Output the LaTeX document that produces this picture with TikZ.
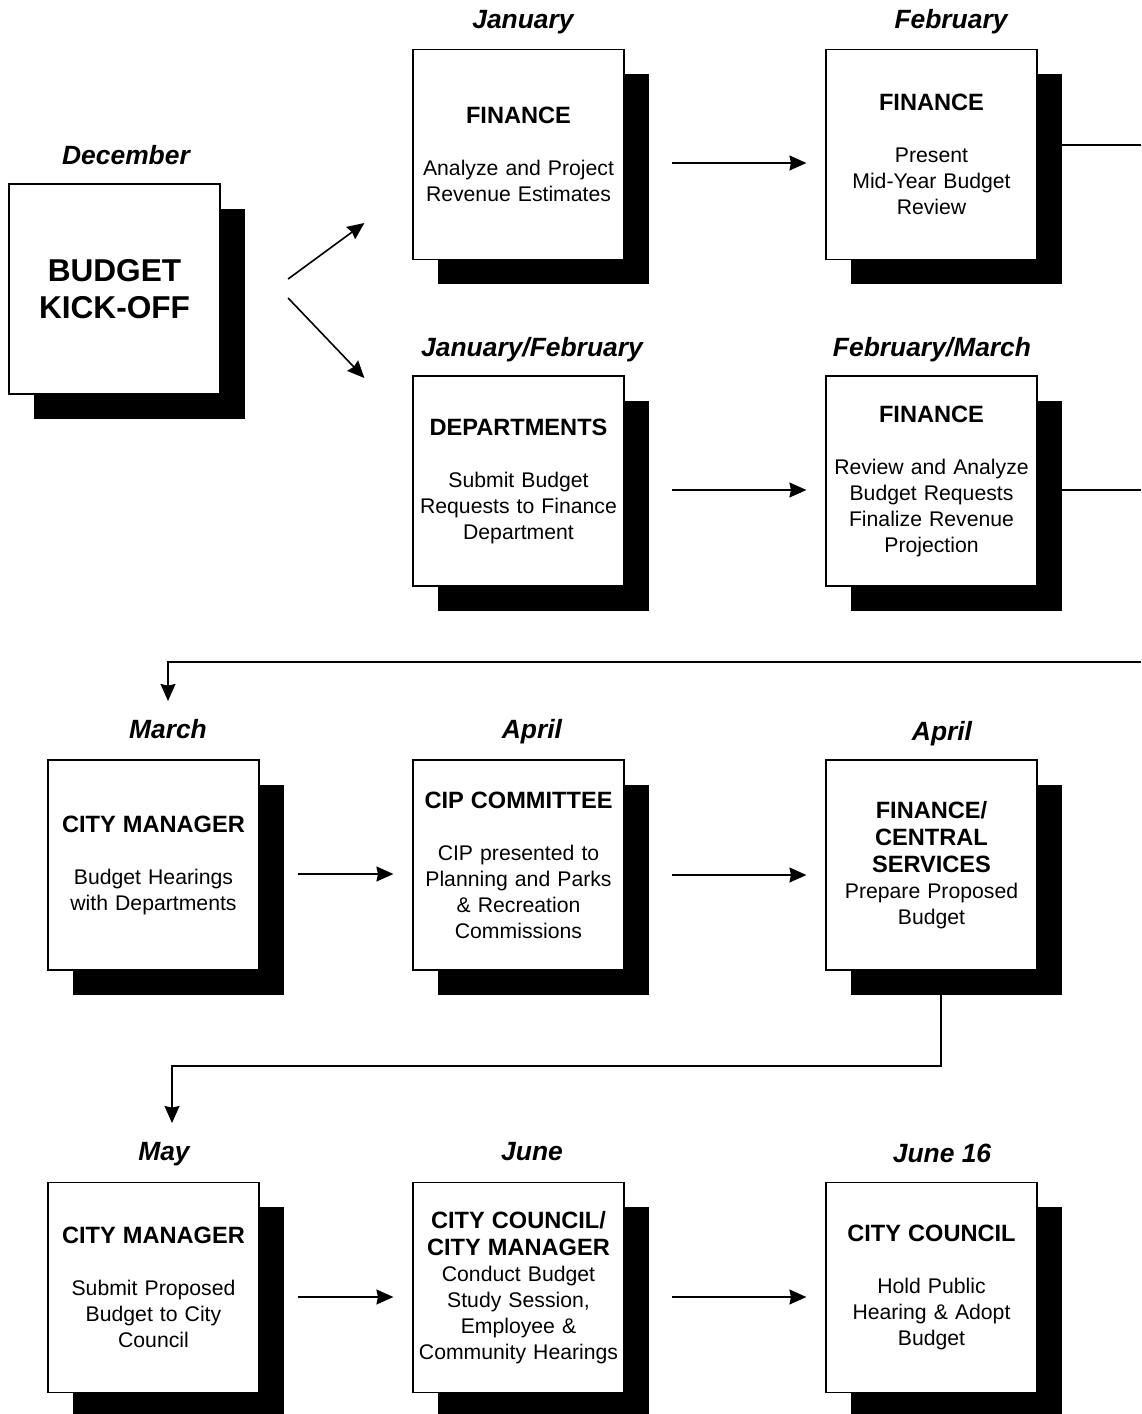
\documentclass[tikz,border=0pt]{standalone}
\usepackage{fontspec}
\setmainfont{Liberation Sans}
\usetikzlibrary{arrows.meta,shadows}

\newcommand{\hd}[1]{{\fontsize{11.8}{13}\selectfont\bfseries #1}}

\begin{document}
\begin{tikzpicture}[x=0.5pt,y=-0.5pt,>={Stealth[length=8.5pt,width=7.5pt,inset=0.8pt]},
  stage/.style={draw,line width=0.6pt,fill=white,minimum width=105.5pt,minimum height=105pt,
    text width=104pt,inner sep=0pt,align=center,font=\fontsize{10.6}{13}\selectfont,
    drop shadow={shadow xshift=12.25pt,shadow yshift=-12.25pt,fill=black,opacity=1}},
  month/.style={anchor=base,font=\fontsize{13.2}{15}\selectfont\bfseries\itshape},
  flow/.style={->,line width=0.8pt},
  link/.style={line width=0.8pt}]
\useasboundingbox (0,0) rectangle (1141,1414);

\node[stage,font=\fontsize{15.8}{18.5}\selectfont\bfseries] (kick) at (114.5,289) {BUDGET\\KICK-OFF};
\node[month] (lbldec) at (126,164) {December};

\node[stage] (jan) at (518.5,154.5) {\hd{FINANCE}\\[13pt]Analyze and Project\\Revenue Estimates};
\node[month] (lbljan) at (523,28) {January};
\node[stage] (feb) at (931.5,154.5) {\hd{FINANCE}\\[13pt]Present\\Mid-Year Budget\\Review};
\node[month] (lblfeb) at (951,28) {February};

\node[stage] (janfeb) at (518.5,481) {\hd{DEPARTMENTS}\\[13pt]Submit Budget\\Requests to Finance\\Department};
\node[month] (lbljanfeb) at (532,356) {January/February};
\node[stage] (febmar) at (931.5,481) {\hd{FINANCE}\\[13pt]Review and Analyze\\Budget Requests\\Finalize Revenue\\Projection};
\node[month] (lblfebmar) at (932,356) {February/March};

\node[stage] (mar) at (153.5,865) {\hd{CITY MANAGER}\\[13pt]Budget Hearings\\with Departments};
\node[month] (lblmar) at (168,738) {March};
\node[stage] (aprcip) at (518.5,865) {\hd{CIP COMMITTEE}\\[13pt]CIP presented to\\Planning and Parks\\\& Recreation\\Commissions};
\node[month] (lblaprcip) at (532,738) {April};
\node[stage] (aprfin) at (931.5,865) {\hd{FINANCE/}\\[0.5pt]\hd{CENTRAL}\\[0.5pt]\hd{SERVICES}\\Prepare Proposed\\Budget};
\node[month] (lblaprfin) at (942,740) {April};

\node[stage] (may) at (153.5,1287.5) {\hd{CITY MANAGER}\\[13pt]Submit Proposed\\Budget to City\\Council};
\node[month] (lblmay) at (164,1160) {May};
\node[stage] (june) at (518.5,1287.5) {\hd{CITY COUNCIL/}\\[0.5pt]\hd{CITY MANAGER}\\Conduct Budget\\Study Session,\\Employee \&\\Community Hearings};
\node[month] (lbljune) at (532,1160) {June};
\node[stage] (june16) at (931.5,1287.5) {\hd{CITY COUNCIL}\\[13pt]Hold Public\\Hearing \& Adopt\\Budget};
\node[month] (lbljune16) at (942,1162) {June 16};

\coordinate (outA) at (1141,145);
\coordinate (outB) at (1141,490);
\coordinate (outC) at (1141,662);
\coordinate (inC) at (168,701);
\coordinate (bendD) at (172,1066);
\coordinate (inD) at (172,1123);

\draw[flow] ([shift={(33.75pt,5pt)}]kick.east) -- ([shift={(-24pt,-34.25pt)}]jan.west);
\draw[flow] ([shift={(33.75pt,-4.5pt)}]kick.east) -- ([shift={(-24pt,51.5pt)}]janfeb.west);
\draw[flow,shorten <=23.5pt,shorten >=9.5pt] ([yshift=-4.25pt]jan.east) -- ([yshift=-4.25pt]feb.west);
\draw[flow,shorten <=23.5pt,shorten >=9.5pt] ([yshift=-4.5pt]janfeb.east) -- ([yshift=-4.5pt]febmar.west);
\draw[link] (feb.east |- outA) -- (outA);
\draw[link] (febmar.east |- outB) -- (outB);
\draw[flow] (outC) -| (inC);
\draw[flow,shorten <=19pt,shorten >=9.5pt] ([yshift=-4.5pt]mar.east) -- ([yshift=-4.5pt]aprcip.west);
\draw[flow,shorten <=23.5pt,shorten >=9.5pt] ([yshift=-5pt]aprcip.east) -- ([yshift=-5pt]aprfin.west);
\draw[flow] ([xshift=4.75pt]aprfin.south) |- (bendD) -- (inD);
\draw[flow,shorten <=19pt,shorten >=9.5pt] ([yshift=-4.75pt]may.east) -- ([yshift=-4.75pt]june.west);
\draw[flow,shorten <=23.5pt,shorten >=9.5pt] ([yshift=-4.75pt]june.east) -- ([yshift=-4.75pt]june16.west);
\end{tikzpicture}
\end{document}
